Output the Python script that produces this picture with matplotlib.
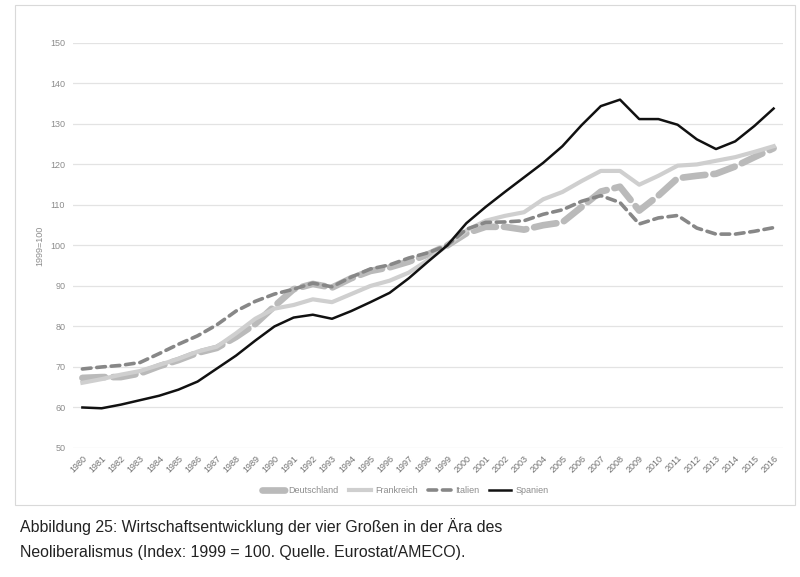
import matplotlib
matplotlib.use('Agg')
import matplotlib.pyplot as plt
from matplotlib.patches import Rectangle

plt.rcParams['font.family'] = ['Liberation Sans', 'DejaVu Sans']

years = list(range(1980, 2017))

deutschland = [67.3, 67.5, 67.5, 68.4, 70.2, 71.7, 73.5, 74.7, 77.4, 80.6,
               85.0, 89.2, 90.5, 89.6, 91.9, 93.7, 94.6, 96.0, 97.8, 100.0,
               103.0, 104.6, 104.6, 103.9, 105.0, 105.7, 109.5, 113.3, 114.5, 108.6,
               112.3, 116.6, 117.2, 117.7, 119.5, 121.8, 124.0]
frankreich = [66.1, 67.0, 68.1, 69.0, 70.5, 72.0, 73.8, 75.0, 78.3, 81.9,
              84.4, 85.3, 86.7, 86.0, 88.0, 90.0, 91.3, 93.3, 96.4, 100.0,
              103.7, 106.1, 107.3, 108.2, 111.4, 113.2, 115.9, 118.4, 118.4, 115.0,
              117.2, 119.7, 120.0, 120.9, 121.8, 123.1, 124.5]
italien = [69.5, 70.0, 70.4, 71.1, 73.3, 75.6, 77.7, 80.4, 83.8, 86.2,
           88.0, 89.2, 90.7, 89.8, 92.2, 94.2, 95.2, 96.9, 98.2, 100.0,
           104.0, 105.7, 105.8, 106.1, 107.7, 108.8, 110.9, 112.3, 110.6, 105.3,
           106.8, 107.4, 104.3, 102.8, 102.8, 103.5, 104.4]
spanien = [60.0, 59.8, 60.7, 61.8, 62.9, 64.4, 66.4, 69.6, 72.8, 76.5,
           80.0, 82.2, 82.9, 81.9, 83.8, 86.0, 88.3, 91.9, 96.0, 100.0,
           105.5, 109.5, 113.2, 116.8, 120.4, 124.5, 129.7, 134.4, 136.0, 131.2,
           131.2, 129.8, 126.2, 123.8, 125.7, 129.5, 133.8]

fig = plt.figure(figsize=(8, 5.77), dpi=100)
# heller Rahmen um das Diagramm
fig.patches.append(Rectangle((15 / 800, 1 - 505 / 577), 780 / 800, 500 / 577,
                             transform=fig.transFigure, fill=False,
                             edgecolor='#d9d9d9', linewidth=0.8))

ax = fig.add_axes([0.091, 0.2236, 0.888, 0.702])

ax.plot(years, deutschland, color='#bababa', lw=4.8, ls=(0, (3.4, 1.2)),
        dash_capstyle='round', label='Deutschland')
ax.plot(years, frankreich, color='#cfcfcf', lw=3, label='Frankreich')
ax.plot(years, italien, color='#878787', lw=2.6, ls=(0, (2.4, 1.6)),
        dash_capstyle='round', label='Italien')
ax.plot(years, spanien, color='#111111', lw=1.8, label='Spanien')

ax.set_xlim(1979.5, 2016.5)
ax.set_ylim(50, 150)
ax.set_yticks(range(50, 151, 10))
ax.set_xticks(years)
ax.set_xticklabels([str(y) for y in years], rotation=45, ha='right',
                   rotation_mode='anchor', fontsize=6.5, color='#707070')
ax.tick_params(axis='y', labelsize=6.5, labelcolor='#8c8c8c', length=0, pad=5.5)
ax.tick_params(axis='x', length=0, pad=4)
ax.grid(axis='y', color='#e3e3e3', lw=0.9)
ax.set_axisbelow(True)
for s in ax.spines.values():
    s.set_visible(False)
ax.set_ylabel('1999=100', fontsize=6.5, color='#8c8c8c', labelpad=4)

ax.legend(loc='center', bbox_to_anchor=(0.468, -0.105), ncol=4, frameon=False,
          fontsize=6.5, labelcolor='#8c8c8c', handlelength=2.5, columnspacing=1.1,
          handletextpad=0.45)

fig.text(20 / 800, 1 - 527 / 577,
         'Abbildung 25: Wirtschaftsentwicklung der vier Großen in der Ära des',
         fontsize=11.4, va='center', color='#222222')
fig.text(20 / 800, 1 - 553 / 577,
         'Neoliberalismus (Index: 1999 = 100. Quelle. Eurostat/AMECO).',
         fontsize=11.4, va='center', color='#222222')

fig.savefig('out.png', dpi=100)
